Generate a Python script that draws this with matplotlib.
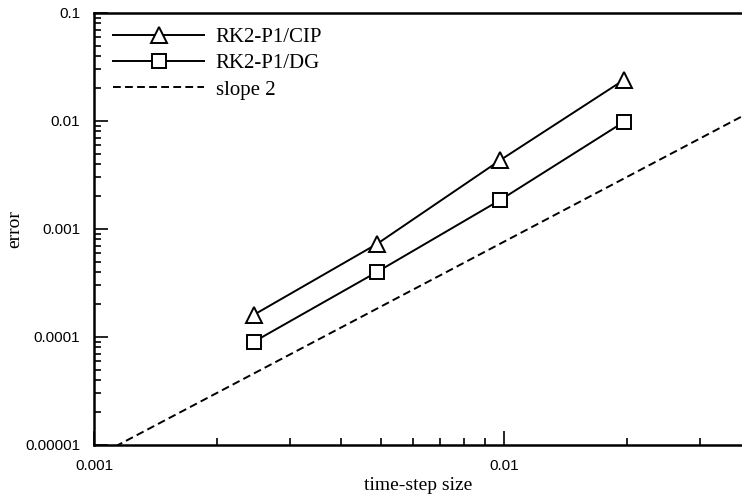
import numpy as np
import matplotlib.pyplot as plt
from matplotlib.ticker import LogLocator, FuncFormatter, NullFormatter

# time-step sizes and errors
dt = [0.00245, 0.0049, 0.0098, 0.0196]
err_cip = [0.00016, 0.000727, 0.00435, 0.024]
err_dg = [0.00009, 0.0004, 0.00186, 0.0098]

# reference line of slope 2
slope_x = [0.001, 0.04]
slope_y = [7.63e-6, 0.0122]

plt.rcParams['font.family'] = 'Liberation Serif'


def dec_fmt(v, pos):
    n = max(0, int(round(-np.log10(v))))
    return '%.*f' % (n, v)


fig = plt.figure(figsize=(7.42, 4.97), dpi=100)
ax = fig.add_axes([94 / 742, 1 - 445 / 497, 1 - 94 / 742, (445 - 13) / 497])

ax.plot(dt, err_cip, color='black', lw=1.4, marker='^', markersize=11,
        markerfacecolor='white', markeredgewidth=1.4, label='RK2-P1/CIP')
ax.plot(dt, err_dg, color='black', lw=1.4, marker='s', markersize=10,
        markerfacecolor='white', markeredgewidth=1.4, label='RK2-P1/DG')
ax.plot(slope_x, slope_y, color='black', lw=1.4, ls=(0, (4, 2.2)), label='slope 2')

ax.set_xscale('log')
ax.set_yscale('log')
ax.set_xlim(0.001, 0.03806)
ax.set_ylim(1e-5, 0.1)

ax.xaxis.set_major_locator(LogLocator(base=10))
ax.yaxis.set_major_locator(LogLocator(base=10))
ax.xaxis.set_minor_locator(LogLocator(base=10, subs=np.arange(2, 10)))
ax.yaxis.set_minor_locator(LogLocator(base=10, subs=np.arange(2, 10)))
ax.xaxis.set_major_formatter(FuncFormatter(dec_fmt))
ax.yaxis.set_major_formatter(FuncFormatter(dec_fmt))
ax.xaxis.set_minor_formatter(NullFormatter())
ax.yaxis.set_minor_formatter(NullFormatter())

ax.tick_params(which='both', direction='in', top=False, right=False, width=1.2)
ax.tick_params(which='major', length=10, pad=10, labelsize=11,
               labelfontfamily='Liberation Sans')
ax.tick_params(which='minor', length=5)

for s in ['left', 'bottom', 'top']:
    ax.spines[s].set_linewidth(1.8)
ax.spines['right'].set_visible(False)

ax.set_xlabel('time-step size', fontsize=14, labelpad=3)
ax.set_ylabel('error', fontsize=14, labelpad=1)

ax.legend(loc='upper left', bbox_to_anchor=(0.0, 1.01), frameon=False,
          fontsize=15, handlelength=4.4, handletextpad=0.55, labelspacing=0.32)

fig.savefig('out.png', dpi=100)
